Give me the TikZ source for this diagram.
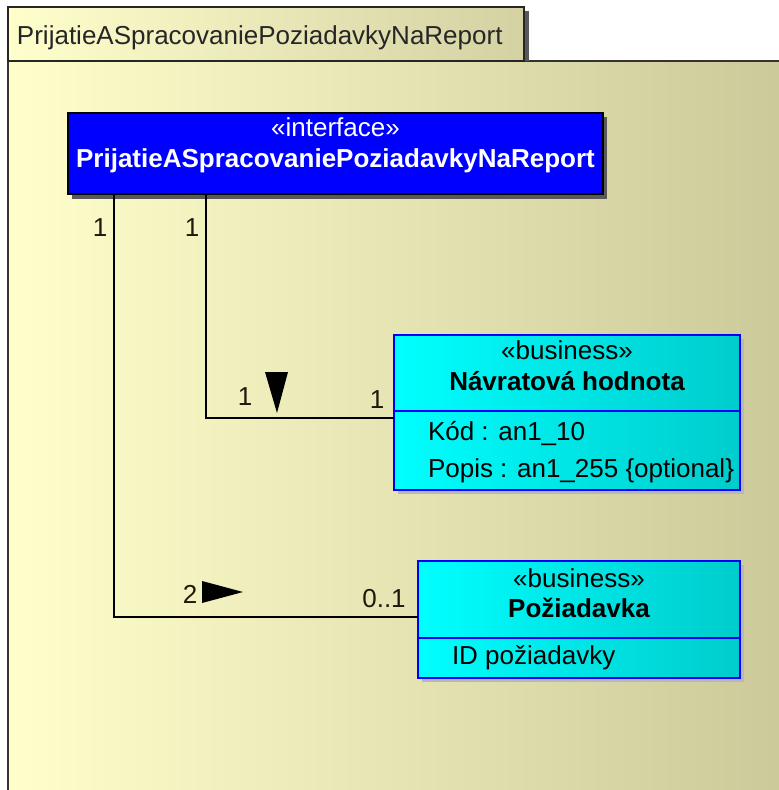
\documentclass[tikz,border=0pt]{standalone}
\usepackage{fontspec}
\setmainfont{Liberation Sans}
\definecolor{pkgL}{RGB}{255,255,204}
\definecolor{pkgR}{RGB}{203,201,153}
\definecolor{tabR}{RGB}{212,209,163}
\definecolor{cyL}{RGB}{0,255,255}
\definecolor{cyR}{RGB}{0,204,204}
\definecolor{ifBlue}{RGB}{0,0,255}
\definecolor{lbl}{RGB}{30,25,10}
\begin{document}
\begin{tikzpicture}[x=0.5pt,y=-0.5pt,
  every node/.style={font=\fontsize{13pt}{15pt}\selectfont, inner sep=0pt, outer sep=0pt},
  txt/.style={anchor=base},
  txtw/.style={anchor=base west},
  cls/.style={draw=ifBlue, line width=1pt, left color=cyL, right color=cyR, anchor=north west},
  divline/.style={draw=ifBlue, line width=1pt},
  clsshadow/.style={fill=black!28},
  conn/.style={draw=black, line width=1pt},
  navhead/.style={fill=black},
  mult/.style={anchor=base, text=lbl}
]
\useasboundingbox (0,0) rectangle (779,790);
\fill[white] (0,0) rectangle (779,790);
\begin{scope}
\clip (0,0) rectangle (779,790);
% package body
\shade[left color=pkgL, right color=pkgR] (8,61) rectangle (790,800);
\draw[black!80, line width=1pt] (8,800) -- (8,61) -- (790,61);
% package tab
\fill[black!65] (12,11) rectangle (529,61);
\node[draw=black!85, line width=1pt, left color=pkgL, right color=tabR, anchor=north west,
      minimum width=258pt, minimum height=27pt] (tab) at (8,7) {};
\node[txtw, text=black!85] (tabtxt) at (17,45) {PrijatieASpracovaniePoziadavkyNaReport};
\end{scope}

% interface
\fill[black!65] (72,117) rectangle (607,199);
\node[draw=black, line width=1pt, fill=ifBlue, anchor=north west,
      minimum width=267.5pt, minimum height=40.5pt] (ifc) at (68,113) {};
\node[txt, text=white] (ifcst) at (335.5,137) {«interface»};
\node[txt, text=white, font=\fontsize{13pt}{15pt}\selectfont\bfseries] (ifcname) at (335.5,168) {PrijatieASpracovaniePoziadavkyNaReport};

% Navratova hodnota
\fill[clsshadow] (398,339) rectangle (744,494);
\node[cls, minimum width=173pt, minimum height=77.5pt] (nav) at (394,335) {};
\draw[divline] ([yshift=-38pt]nav.north west) -- ([yshift=-38pt]nav.north east);
\node[txt] (navst) at (567,359) {«business»};
\node[txt, font=\fontsize{13pt}{15pt}\selectfont\bfseries] (navname) at (567,390) {Návratová hodnota};
\node[txtw] (navat1) at (428,440) {Kód : an1\_10};
\node[txtw] (navat2) at (428,477) {Popis : an1\_255 \{optional\}};

% Poziadavka
\fill[clsshadow] (422,565) rectangle (744,682);
\node[cls, minimum width=161pt, minimum height=58.5pt] (poz) at (418,561) {};
\draw[divline] ([yshift=-38.5pt]poz.north west) -- ([yshift=-38.5pt]poz.north east);
\node[txt] (pozst) at (579,587) {«business»};
\node[txt, font=\fontsize{13pt}{15pt}\selectfont\bfseries] (pozname) at (579,617) {Požiadavka};
\node[txtw] (pozat1) at (452,664) {ID požiadavky};

% connectors
\coordinate (c1) at (114,617);
\coordinate (c2) at (206,418);
\draw[conn] (ifc.south -| c1) -- (c1) -- (poz.west |- c1);
\draw[conn] (ifc.south -| c2) -- (c2) -- (nav.west |- c2);

% navigation arrows
\fill[navhead] (202,581) -- (243,592) -- (202,603) -- cycle;
\fill[navhead] (265,372) -- (288,372) -- (277,413) -- cycle;

% multiplicities
\node[mult] (m1) at (100,237) {1};
\node[mult] (m2) at (192,237) {1};
\node[mult] (m3) at (245,405) {1};
\node[mult] (m4) at (377,408) {1};
\node[mult] (m5) at (190,603) {2};
\node[mult] (m6) at (384,607) {0..1};
\end{tikzpicture}
\end{document}
